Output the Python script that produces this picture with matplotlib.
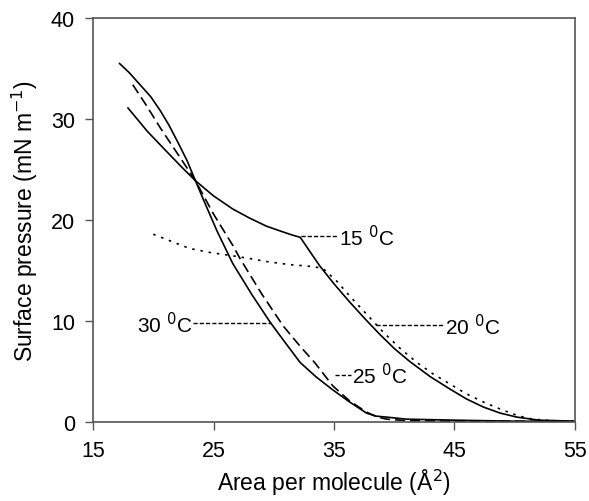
import matplotlib
matplotlib.use("Agg")
import matplotlib.pyplot as plt

plt.rcParams['font.family'] = ['Liberation Sans', 'DejaVu Sans']

# isotherms: area (A^2) vs surface pressure (mN/m)
x15 = [17.9, 19.5, 21.1, 22.4, 23.5, 25.0, 26.6, 28.0, 29.4, 30.6, 31.6, 32.2, 33.0, 33.8, 35.0, 36.3, 37.6, 38.8, 40.0, 41.3, 43.0, 44.6, 46.0, 47.4, 48.8, 50.2, 52.0, 55.0]
y15 = [31.1, 28.8, 26.8, 25.2, 23.9, 22.4, 21.1, 20.2, 19.4, 18.9, 18.5, 18.3, 16.9, 15.5, 13.7, 11.9, 10.2, 8.7, 7.3, 6.0, 4.5, 3.3, 2.3, 1.5, 0.9, 0.5, 0.2, 0.1]

x20 = [20.0, 21.5, 23.0, 24.7, 26.4, 28.0, 29.4, 31.3, 33.3, 34.1, 35.2, 36.3, 37.7, 39.1, 40.5, 41.9, 43.2, 44.6, 46.0, 47.4, 49.0, 50.4, 51.5, 53.0, 55.0]
y20 = [18.6, 17.9, 17.2, 16.8, 16.5, 16.2, 15.9, 15.6, 15.4, 15.2, 14.0, 12.5, 10.7, 8.9, 7.3, 5.9, 4.8, 3.8, 2.8, 2.0, 1.2, 0.6, 0.3, 0.15, 0.1]

x25 = [18.3, 19.4, 20.6, 22.0, 23.5, 25.0, 26.6, 27.2, 29.0, 30.8, 32.2, 33.4, 34.9, 36.3, 37.7, 38.6, 39.4, 41.0, 45.0, 50.0, 55.0]
y25 = [33.4, 31.4, 29.1, 26.6, 23.9, 20.6, 17.5, 16.2, 12.7, 9.5, 7.5, 5.9, 3.6, 2.1, 1.0, 0.5, 0.3, 0.15, 0.1, 0.1, 0.05]

x30 = [17.2, 18.0, 18.9, 19.8, 20.6, 21.3, 22.0, 22.8, 23.5, 24.1, 25.3, 26.6, 28.2, 29.7, 31.0, 32.2, 33.5, 34.9, 36.3, 37.7, 38.5, 39.4, 41.0, 45.0, 50.0, 55.0]
y30 = [35.5, 34.6, 33.4, 32.2, 30.8, 29.4, 27.8, 25.9, 23.9, 22.2, 18.9, 15.7, 12.6, 9.9, 7.8, 5.9, 4.5, 3.2, 2.0, 0.9, 0.6, 0.5, 0.3, 0.2, 0.1, 0.05]

fig = plt.figure(figsize=(5.89, 5.02), dpi=100)
ax = fig.add_axes([0.158, 0.157, 0.818, 0.805])

ax.plot(x15, y15, color='black', lw=1.2, ls='-')
ax.plot(x20, y20, color='black', lw=1.2, ls=(0, (1.5, 3.5)))
ax.plot(x25, y25, color='black', lw=1.2, ls=(0, (6, 3)))
ax.plot(x30, y30, color='black', lw=1.2, ls='-')

# labels with dashed leader lines
lead = dict(color='black', lw=1.0, ls=(0, (3, 1.5)))
ax.plot([32.3, 35.3], [18.4, 18.4], **lead)
ax.text(35.4, 18.4, '15 $^{0}$C', fontsize=15, va='center', ha='left')
ax.plot([38.5, 44.1], [9.6, 9.6], **lead)
ax.text(44.2, 9.6, '20 $^{0}$C', fontsize=15, va='center', ha='left')
ax.plot([35.1, 36.4], [4.7, 4.7], **lead)
ax.text(36.5, 4.7, '25 $^{0}$C', fontsize=15, va='center', ha='left')
ax.plot([23.3, 29.7], [9.8, 9.8], **lead)
ax.text(23.2, 9.8, '30 $^{0}$C', fontsize=15, va='center', ha='right')

ax.set_xlim(15, 55)
ax.set_ylim(0, 40)
ax.set_xticks([15, 25, 35, 45, 55])
ax.set_yticks([0, 10, 20, 30, 40])
ax.tick_params(direction='out', length=6, width=1, labelsize=15.5, color='#555555', pad=7)
for s in ax.spines.values():
    s.set_color('#555555')
    s.set_linewidth(1.2)

ax.set_xlabel('Area per molecule (Å$^{2}$)', fontsize=16.5, labelpad=4)
ax.set_ylabel('Surface pressure (mN m$^{-1}$)', fontsize=16.5, labelpad=8)

fig.savefig('out.png', dpi=100)
